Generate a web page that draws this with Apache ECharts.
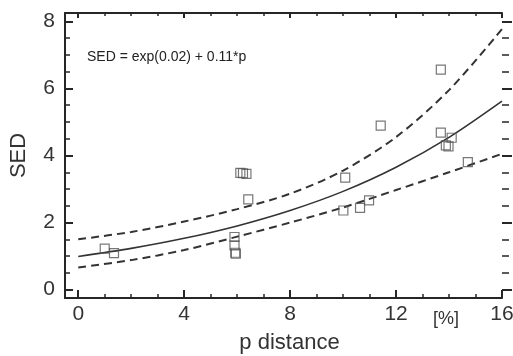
<!DOCTYPE html>
<html>
<head>
<meta charset="utf-8">
<script src="https://cdn.jsdelivr.net/npm/echarts@6/dist/echarts.min.js"></script>
<style>html,body{margin:0;padding:0;background:#fff}#c{width:513px;height:356px}</style>
</head>
<body>
<div id="c"></div>
<script>
// Observed points (p distance %, SED)
var pointsX = [1.0, 1.35, 5.9, 5.9, 5.93, 5.95, 6.12, 6.22, 6.35, 6.42, 10.08, 10.01, 10.64, 10.98, 11.42, 13.69, 13.69, 14.1, 13.88, 13.98, 14.71];
var pointsY = [1.22, 1.09, 1.57, 1.32, 1.1, 1.07, 3.48, 3.47, 3.45, 2.69, 3.34, 2.36, 2.44, 2.66, 4.89, 6.56, 4.68, 4.53, 4.30, 4.27, 3.80];
// Fitted curve and confidence band
var curveX = [0, 2, 4, 6, 8, 10, 12, 14, 16];
var fitY   = [0.99, 1.23, 1.53, 1.90, 2.36, 2.93, 3.65, 4.54, 5.62];
var upperY = [1.50, 1.72, 2.03, 2.40, 2.86, 3.55, 4.55, 5.95, 7.77];
var lowerY = [0.66, 0.88, 1.18, 1.58, 2.00, 2.45, 2.97, 3.50, 4.05];
// Ticks
var xMajor = [0, 4, 8, 12, 16];
var xMinor = [1, 2, 3, 5, 6, 7, 9, 10, 11, 13, 14, 15];
var yMajor = [0, 2, 4, 6, 8];
var yMinor = [0.5, 1, 1.5, 2.5, 3, 3.5, 4.5, 5, 5.5, 6.5, 7, 7.5];
var equationText = 'SED = exp(0.02) + 0.11*p';
var unitText = '[%]';

function zip(a, b) { return a.map(function (v, i) { return [v, b[i]]; }); }

var INK = '#262626';
var FONT = 'Liberation Sans, Arial, sans-serif';

function xAx(pos, ticks, len, width, opts) {
  var o = {
    type: 'value', position: pos, min: -0.5, max: 16,
    splitLine: { show: false },
    axisLine: { show: !!opts.line, onZero: false, lineStyle: { color: INK, width: 2 } },
    axisTick: { show: true, inside: true, customValues: ticks, length: len, lineStyle: { color: INK, width: width } },
    axisLabel: { show: false }
  };
  if (opts.labels) {
    o.axisLabel = { show: true, customValues: xMajor, margin: 6, color: '#333', fontSize: 21, fontFamily: FONT };
    o.name = 'p distance';
    o.nameLocation = 'middle';
    o.nameGap = 34;
    o.nameTextStyle = { color: '#333', fontSize: 22, fontFamily: FONT, padding: [0, 0, 0, 12] };
  }
  return o;
}
function yAx(pos, ticks, len, width, opts) {
  var o = {
    type: 'value', position: pos, min: -0.25, max: 8.25,
    splitLine: { show: false },
    axisLine: { show: !!opts.line, onZero: false, lineStyle: { color: INK, width: 2 } },
    axisTick: { show: true, inside: !!opts.inside, customValues: ticks, length: len, lineStyle: { color: INK, width: width } },
    axisLabel: { show: false }
  };
  if (opts.labels) {
    o.axisLabel = { show: true, customValues: yMajor, margin: 10, color: '#333', fontSize: 21, fontFamily: FONT };
    o.name = 'SED';
    o.nameLocation = 'middle';
    o.nameRotate = 90;
    o.nameGap = 35;
    o.nameTextStyle = { color: '#333', fontSize: 22, fontFamily: FONT };
  }
  return o;
}

var chart = echarts.init(document.getElementById('c'), null, { renderer: 'canvas' });
var dashed = { type: [8, 5] };
chart.setOption({
  animation: false,
  backgroundColor: '#fff',
  grid: { left: 65, top: 13, right: 11, bottom: 58, containLabel: false, outerBoundsMode: 'none' },
  xAxis: [
    xAx('bottom', xMajor, 8, 2, { line: true, labels: true }),
    xAx('bottom', xMinor, 4, 1.5, {}),
    xAx('top', xMajor, 5, 2, { line: true }),
    xAx('top', xMinor, 3, 1.5, {})
  ],
  yAxis: [
    yAx('left', yMajor, 8, 2, { line: true, labels: true, inside: true }),
    yAx('left', yMinor, 5, 1.5, { inside: true }),
    yAx('right', yMajor, 10, 2, {}),
    yAx('right', yMinor, 7, 1.5, {})
  ],
  graphic: [
    { type: 'text', left: 87, top: 50, style: { text: equationText, font: '14px ' + FONT, fill: '#222' } },
    { type: 'text', left: 433, top: 310, style: { text: unitText, font: '18px ' + FONT, fill: '#333' } }
  ],
  series: [
    { type: 'line', data: zip(curveX, upperY), smooth: 0.3, symbol: 'none', lineStyle: { color: '#333', width: 2, type: [8, 5] }, z: 2 },
    { type: 'line', data: zip(curveX, lowerY), smooth: 0.3, symbol: 'none', lineStyle: { color: '#333', width: 2, type: [8, 5] }, z: 2 },
    { type: 'line', data: zip(curveX, fitY), smooth: 0.3, symbol: 'none', lineStyle: { color: '#333', width: 1.6 }, z: 2 },
    { type: 'scatter', data: zip(pointsX, pointsY), symbol: 'rect', symbolSize: 9,
      itemStyle: { color: 'rgba(0,0,0,0)', borderColor: '#555', borderWidth: 1.2 }, z: 3 }
  ]
});
</script>
</body>
</html>
